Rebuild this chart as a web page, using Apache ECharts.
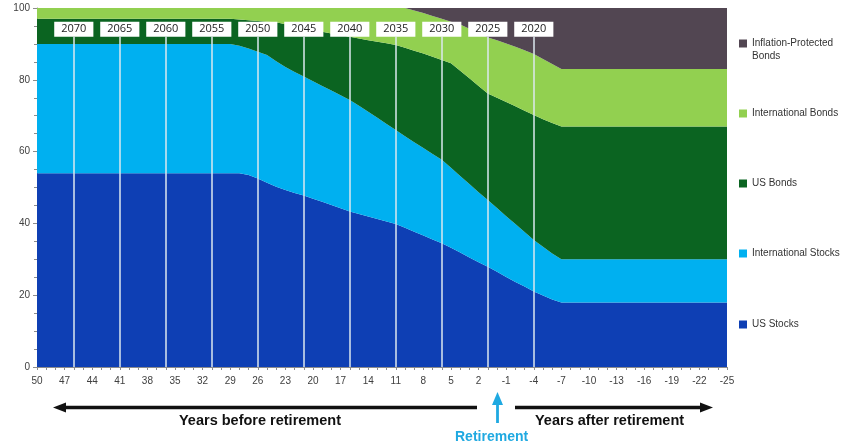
<!DOCTYPE html>
<html>
<head>
<meta charset="utf-8">
<script src="https://cdn.jsdelivr.net/npm/echarts@6/dist/echarts.min.js"></script>
<style>
  html, body { margin: 0; padding: 0; background: #fff; }
  #c { width: 851px; height: 448px; }
</style>
</head>
<body>
<div id="c"></div>
<script>
// years before retirement (negative = after)
const years = ["50","49","48","47","46","45","44","43","42","41","40","39","38","37","36","35","34","33","32","31","30","29","28","27","26","25","24","23","22","21","20","19","18","17","16","15","14","13","12","11","10","9","8","7","6","5","4","3","2","1","0","-1","-2","-3","-4","-5","-6","-7","-8","-9","-10","-11","-12","-13","-14","-15","-16","-17","-18","-19","-20","-21","-22","-23","-24","-25"];

const usStocks = [54,54,54,54,54,54,54,54,54,54,54,54,54,54,54,54,54,54,54,54,54,54,54,
  53.5,52.5,51.3,50.2,49.3,48.5,47.8,46.9,46,45.1,44.2,43.3,42.6,41.9,41.2,40.5,39.8,38.8,37.7,36.6,35.5,34.5,33.2,31.9,30.5,29.2,27.9,26.5,25.1,23.7,22.4,21,19.9,18.8,18,
  18,18,18,18,18,18,18,18,18,18,18,18,18,18,18,18,18,18];
const intlStocks = [36,36,36,36,36,36,36,36,36,36,36,36,36,36,36,36,36,36,36,36,36,36,
  35.5,35.2,35.3,35.6,35,34.3,33.7,33.1,32.7,32.3,31.9,31.5,31.1,30.2,29.2,28.2,27.2,26.2,25.5,24.9,24.4,23.8,23.2,22.3,21.3,20.5,19.5,18.6,17.8,16.9,16.1,15.2,14.4,13.6,12.8,12,
  12,12,12,12,12,12,12,12,12,12,12,12,12,12,12,12,12,12];
const usBonds = [7,7,7,7,7,7,7,7,7,7,7,7,7,7,7,7,7,7,7,7,7,7,
  7.3,7.9,8.6,9.3,10.8,11.9,12.8,13.6,14.4,15.1,15.9,16.8,17.6,18.7,19.9,21.2,22.5,23.7,24.6,25.5,26.3,27.1,27.8,29.1,29.3,29.4,29.6,29.7,30.7,31.8,32.8,33.8,34.8,35.5,36.4,37,
  37,37,37,37,37,37,37,37,37,37,37,37,37,37,37,37,37,37];
const intlBonds = [3,3,3,3,3,3,3,3,3,3,3,3,3,3,3,3,3,3,3,3,3,3,
  3.2,3.4,3.6,3.8,4,4.5,5,5.5,6,6.6,7.1,7.5,8,8.5,9,9.4,9.8,10.3,11.1,11.2,11.3,11.4,11.5,11.6,12.9,13.8,14.7,15.6,16,16.3,16.6,16.8,17,16.8,16.4,16,
  16,16,16,16,16,16,16,16,16,16,16,16,16,16,16,16,16,16];
const tips = [0,0,0,0,0,0,0,0,0,0,0,0,0,0,0,0,0,0,0,0,0,0,0,0,0,0,0,0,0,0,0,0,0,0,0,0,0,0,0,0,0,
  0.7,1.4,2.2,3,3.8,4.6,5.8,7,8.2,9,9.9,10.8,11.8,12.8,14.2,15.6,17,
  17,17,17,17,17,17,17,17,17,17,17,17,17,17,17,17,17,17];

// target-date fund markers
const fundYears = ["46","41","36","31","26","21","16","11","6","1","-4"];
const fundNames = ["2070","2065","2060","2055","2050","2045","2040","2035","2030","2025","2020"];

const names = ["US Stocks", "International Stocks", "US Bonds", "International Bonds", "Inflation-Protected Bonds"];
const colors = ["#0e3fb4", "#00b0f0", "#0b6421", "#92d050", "#524652"];
const legendTop = [318, 247, 177, 107, 24];

(() => {
  "use strict";
  const chart = echarts.init(document.getElementById("c"));
  const values = [usStocks, intlStocks, usBonds, intlBonds, tips];
  const font = "'Liberation Sans', Arial, sans-serif";

  const series = names.map((n, i) => ({
    name: n, type: "line", stack: "all", data: values[i],
    symbol: "none", lineStyle: { width: 0 }, areaStyle: { color: colors[i], opacity: 1 },
    itemStyle: { color: colors[i] }, z: 2,
  }));
  series[4].markLine = {
    silent: true, symbol: "none", animation: false, z: 10,
    lineStyle: { color: "#dde8ef", width: 1.5, type: "solid" },
    label: {
      show: true, position: "end", distance: 0, formatter: "{b}",
      backgroundColor: "#fff", padding: [2, 7, 2, 7], color: "#222",
      fontFamily: "'Open Sans', sans-serif", fontSize: 11,
    },
    data: fundYears.map((y, i) => [{ xAxis: y, yAxis: 0, name: fundNames[i] }, { xAxis: y, yAxis: 92 }]),
  };

  // blank first line keeps the icon level with "Inflation-Protected"
  const legends = names.map((n, i) => ({
    data: [n], orient: "vertical", left: 739, top: legendTop[i], padding: 0,
    icon: "rect", itemWidth: 8, itemHeight: 8, itemGap: 0, selectedMode: false,
    formatter: n === "Inflation-Protected Bonds" ? "\nInflation-Protected\nBonds" : "{name}",
    textStyle: { fontFamily: font, fontSize: 10, color: "#333", lineHeight: 13 },
  }));

  const black = "#111", blue = "#1fa9e1";
  const graphic = [
    { type: "line", shape: { x1: 62, y1: 407.5, x2: 477, y2: 407.5 }, style: { stroke: black, lineWidth: 3.3 } },
    { type: "polygon", shape: { points: [[53, 407.5], [66, 402.5], [66, 412.5]] }, style: { fill: black } },
    { type: "line", shape: { x1: 515, y1: 407.5, x2: 703, y2: 407.5 }, style: { stroke: black, lineWidth: 3.3 } },
    { type: "polygon", shape: { points: [[713, 407.5], [700, 402.5], [700, 412.5]] }, style: { fill: black } },
    { type: "line", shape: { x1: 497.5, y1: 402, x2: 497.5, y2: 423 }, style: { stroke: blue, lineWidth: 2.8 } },
    { type: "polygon", shape: { points: [[497.5, 392], [492, 405], [503, 405]] }, style: { fill: blue } },
    { type: "text", left: 179, top: 413, style: { text: "Years before retirement", font: "bold 14.5px " + font, fill: black } },
    { type: "text", left: 535, top: 413, style: { text: "Years after retirement", font: "bold 14.5px " + font, fill: black } },
    { type: "text", left: 455, top: 430, style: { text: "Retirement", font: "bold 14px " + font, fill: blue } },
  ];

  chart.setOption({
    animation: false,
    backgroundColor: "#fff",
    grid: { left: 37, right: 124, top: 8, bottom: 81 },
    legend: legends,
    graphic,
    xAxis: {
      type: "category", data: years, boundaryGap: false,
      axisLine: { lineStyle: { color: "#8c8c8c" } },
      axisTick: { interval: 0, length: 3, lineStyle: { color: "#8c8c8c" } },
      axisLabel: { interval: 2, margin: 9, fontFamily: font, fontSize: 10, color: "#404040" },
      splitLine: { show: false },
    },
    yAxis: {
      type: "value", min: 0, max: 100, interval: 20,
      axisLine: { show: true, lineStyle: { color: "#8c8c8c" } },
      axisTick: { show: true, length: 4, lineStyle: { color: "#8c8c8c" } },
      minorTick: { show: true, splitNumber: 4, length: 3, lineStyle: { color: "#8c8c8c" } },
      axisLabel: { margin: 7, fontFamily: font, fontSize: 10, color: "#404040" },
      splitLine: { show: false },
    },
    series,
  });
})();
</script>
</body>
</html>
